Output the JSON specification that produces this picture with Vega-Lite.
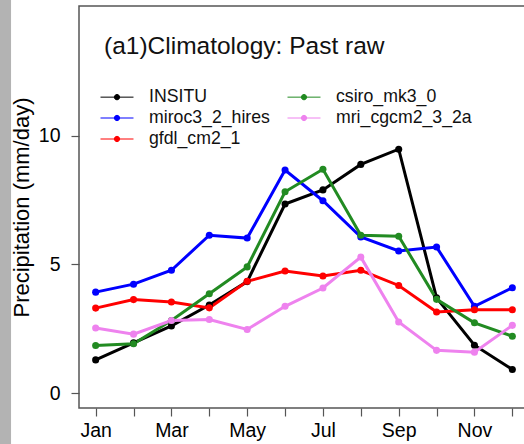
{
  "$schema": "https://vega.github.io/schema/vega-lite/v6.json",
  "width": 450,
  "height": 402,
  "autosize": {"type": "none"},
  "padding": {"left": 79, "top": 6, "right": 0, "bottom": 36},
  "background": "white",
  "config": {
    "font": "Liberation Sans",
    "view": {"stroke": "#555", "strokeWidth": 1.5},
    "axis": {"domain": false, "grid": false, "tickColor": "#555", "tickWidth": 1.2, "labelColor": "black", "titleColor": "black", "labelFont": "Liberation Sans", "titleFont": "Liberation Sans", "titleFontWeight": "normal"}
  },
  "title": {
    "text": "(a1)Climatology: Past raw",
    "anchor": "start",
    "frame": "group",
    "orient": "top",
    "offset": 0,
    "baseline": "alphabetic",
    "dx": 25,
    "dy": 79,
    "fontSize": 24.5,
    "fontWeight": "normal",
    "font": "Liberation Sans",
    "color": "#111"
  },
  "datasets": {
    "clim": [
      {"series": "INSITU", "month": 1, "value": 1.29},
      {"series": "INSITU", "month": 2, "value": 1.95},
      {"series": "INSITU", "month": 3, "value": 2.61},
      {"series": "INSITU", "month": 4, "value": 3.42},
      {"series": "INSITU", "month": 5, "value": 4.33},
      {"series": "INSITU", "month": 6, "value": 7.34},
      {"series": "INSITU", "month": 7, "value": 7.89},
      {"series": "INSITU", "month": 8, "value": 8.88},
      {"series": "INSITU", "month": 9, "value": 9.47},
      {"series": "INSITU", "month": 10, "value": 3.7},
      {"series": "INSITU", "month": 11, "value": 1.86},
      {"series": "INSITU", "month": 12, "value": 0.92},
      {"series": "miroc3_2_hires", "month": 1, "value": 3.92},
      {"series": "miroc3_2_hires", "month": 2, "value": 4.23},
      {"series": "miroc3_2_hires", "month": 3, "value": 4.77},
      {"series": "miroc3_2_hires", "month": 4, "value": 6.13},
      {"series": "miroc3_2_hires", "month": 5, "value": 6.02},
      {"series": "miroc3_2_hires", "month": 6, "value": 8.66},
      {"series": "miroc3_2_hires", "month": 7, "value": 7.47},
      {"series": "miroc3_2_hires", "month": 8, "value": 6.06},
      {"series": "miroc3_2_hires", "month": 9, "value": 5.52},
      {"series": "miroc3_2_hires", "month": 10, "value": 5.67},
      {"series": "miroc3_2_hires", "month": 11, "value": 3.37},
      {"series": "miroc3_2_hires", "month": 12, "value": 4.09},
      {"series": "gfdl_cm2_1", "month": 1, "value": 3.3},
      {"series": "gfdl_cm2_1", "month": 2, "value": 3.63},
      {"series": "gfdl_cm2_1", "month": 3, "value": 3.54},
      {"series": "gfdl_cm2_1", "month": 4, "value": 3.31},
      {"series": "gfdl_cm2_1", "month": 5, "value": 4.34},
      {"series": "gfdl_cm2_1", "month": 6, "value": 4.74},
      {"series": "gfdl_cm2_1", "month": 7, "value": 4.55},
      {"series": "gfdl_cm2_1", "month": 8, "value": 4.77},
      {"series": "gfdl_cm2_1", "month": 9, "value": 4.18},
      {"series": "gfdl_cm2_1", "month": 10, "value": 3.15},
      {"series": "gfdl_cm2_1", "month": 11, "value": 3.24},
      {"series": "gfdl_cm2_1", "month": 12, "value": 3.24},
      {"series": "csiro_mk3_0", "month": 1, "value": 1.85},
      {"series": "csiro_mk3_0", "month": 2, "value": 1.92},
      {"series": "csiro_mk3_0", "month": 3, "value": 2.82},
      {"series": "csiro_mk3_0", "month": 4, "value": 3.86},
      {"series": "csiro_mk3_0", "month": 5, "value": 4.9},
      {"series": "csiro_mk3_0", "month": 6, "value": 7.82},
      {"series": "csiro_mk3_0", "month": 7, "value": 8.69},
      {"series": "csiro_mk3_0", "month": 8, "value": 6.13},
      {"series": "csiro_mk3_0", "month": 9, "value": 6.09},
      {"series": "csiro_mk3_0", "month": 10, "value": 3.64},
      {"series": "csiro_mk3_0", "month": 11, "value": 2.73},
      {"series": "csiro_mk3_0", "month": 12, "value": 2.21},
      {"series": "mri_cgcm2_3_2a", "month": 1, "value": 2.53},
      {"series": "mri_cgcm2_3_2a", "month": 2, "value": 2.29},
      {"series": "mri_cgcm2_3_2a", "month": 3, "value": 2.82},
      {"series": "mri_cgcm2_3_2a", "month": 4, "value": 2.86},
      {"series": "mri_cgcm2_3_2a", "month": 5, "value": 2.47},
      {"series": "mri_cgcm2_3_2a", "month": 6, "value": 3.37},
      {"series": "mri_cgcm2_3_2a", "month": 7, "value": 4.08},
      {"series": "mri_cgcm2_3_2a", "month": 8, "value": 5.28},
      {"series": "mri_cgcm2_3_2a", "month": 9, "value": 2.76},
      {"series": "mri_cgcm2_3_2a", "month": 10, "value": 1.66},
      {"series": "mri_cgcm2_3_2a", "month": 11, "value": 1.59},
      {"series": "mri_cgcm2_3_2a", "month": 12, "value": 2.63}
    ]
  },
  "layer": [
    {
      "data": {"values": [{}]},
      "mark": {"type": "rect", "color": "#b3b3b3", "clip": false},
      "encoding": {
        "x": {"datum": -1.6, "type": "quantitative", "scale": {"domain": [0.56, 12.44], "nice": false, "zero": false}},
        "x2": {"datum": -1.234},
        "y": {"datum": -3, "type": "quantitative", "scale": {"domain": [-0.578, 15.03], "nice": false, "zero": false}},
        "y2": {"datum": 15.3}
      }
    },
    {
      "data": {"name": "clim"},
      "mark": {"type": "line", "strokeWidth": 3, "point": {"filled": true, "size": 50, "opacity": 1}},
      "encoding": {
        "x": {
          "field": "month",
          "type": "quantitative",
          "scale": {"domain": [0.56, 12.44], "nice": false, "zero": false},
          "axis": {
            "title": null,
            "values": [1, 2, 3, 4, 5, 6, 7, 8, 9, 10, 11, 12],
            "labelExpr": "datum.value % 2 == 1 ? ['Jan','Feb','Mar','Apr','May','Jun','Jul','Aug','Sep','Oct','Nov','Dec'][datum.value - 1] : ''",
            "tickSize": 8,
            "labelPadding": 5,
            "labelFontSize": 19.5,
            "labelOverlap": false,
            "labelFlush": false
          }
        },
        "y": {
          "field": "value",
          "type": "quantitative",
          "scale": {"domain": [-0.578, 15.03], "nice": false, "zero": false},
          "axis": {
            "title": "Precipitation (mm/day)",
            "values": [0, 5, 10],
            "tickSize": 8,
            "labelPadding": 11,
            "labelFontSize": 19.5,
            "labelBaseline": "middle",
            "titleFontSize": 22,
            "titleAngle": -90,
            "titleAlign": "center",
            "titleBaseline": "alphabetic",
            "titleX": -51,
            "titleY": 201
          }
        },
        "color": {
          "field": "series",
          "type": "nominal",
          "scale": {
            "domain": ["INSITU", "csiro_mk3_0", "miroc3_2_hires", "mri_cgcm2_3_2a", "gfdl_cm2_1"],
            "range": ["#000000", "#228B22", "#0000FF", "#EE82EE", "#FF0000"]
          },
          "legend": {
            "title": null,
            "orient": "none",
            "legendX": 29,
            "legendY": 82,
            "columns": 2,
            "direction": "horizontal",
            "columnPadding": 15,
            "rowPadding": 3,
            "padding": 0,
            "symbolType": "M-2,0H2M0.32,0A0.32,0.32,0,1,1,-0.32,0A0.32,0.32,0,1,1,0.32,0",
            "symbolSize": 272,
            "symbolStrokeWidth": 1,
            "labelFontSize": 17.7,
            "labelOffset": 23,
            "labelColor": "#111",
            "labelFont": "Liberation Sans",
            "encode": {
              "symbols": {"update": {"fill": {"scale": "color", "field": "value"}, "fillOpacity": {"value": 1}}}
            }
          }
        }
      }
    }
  ]
}
